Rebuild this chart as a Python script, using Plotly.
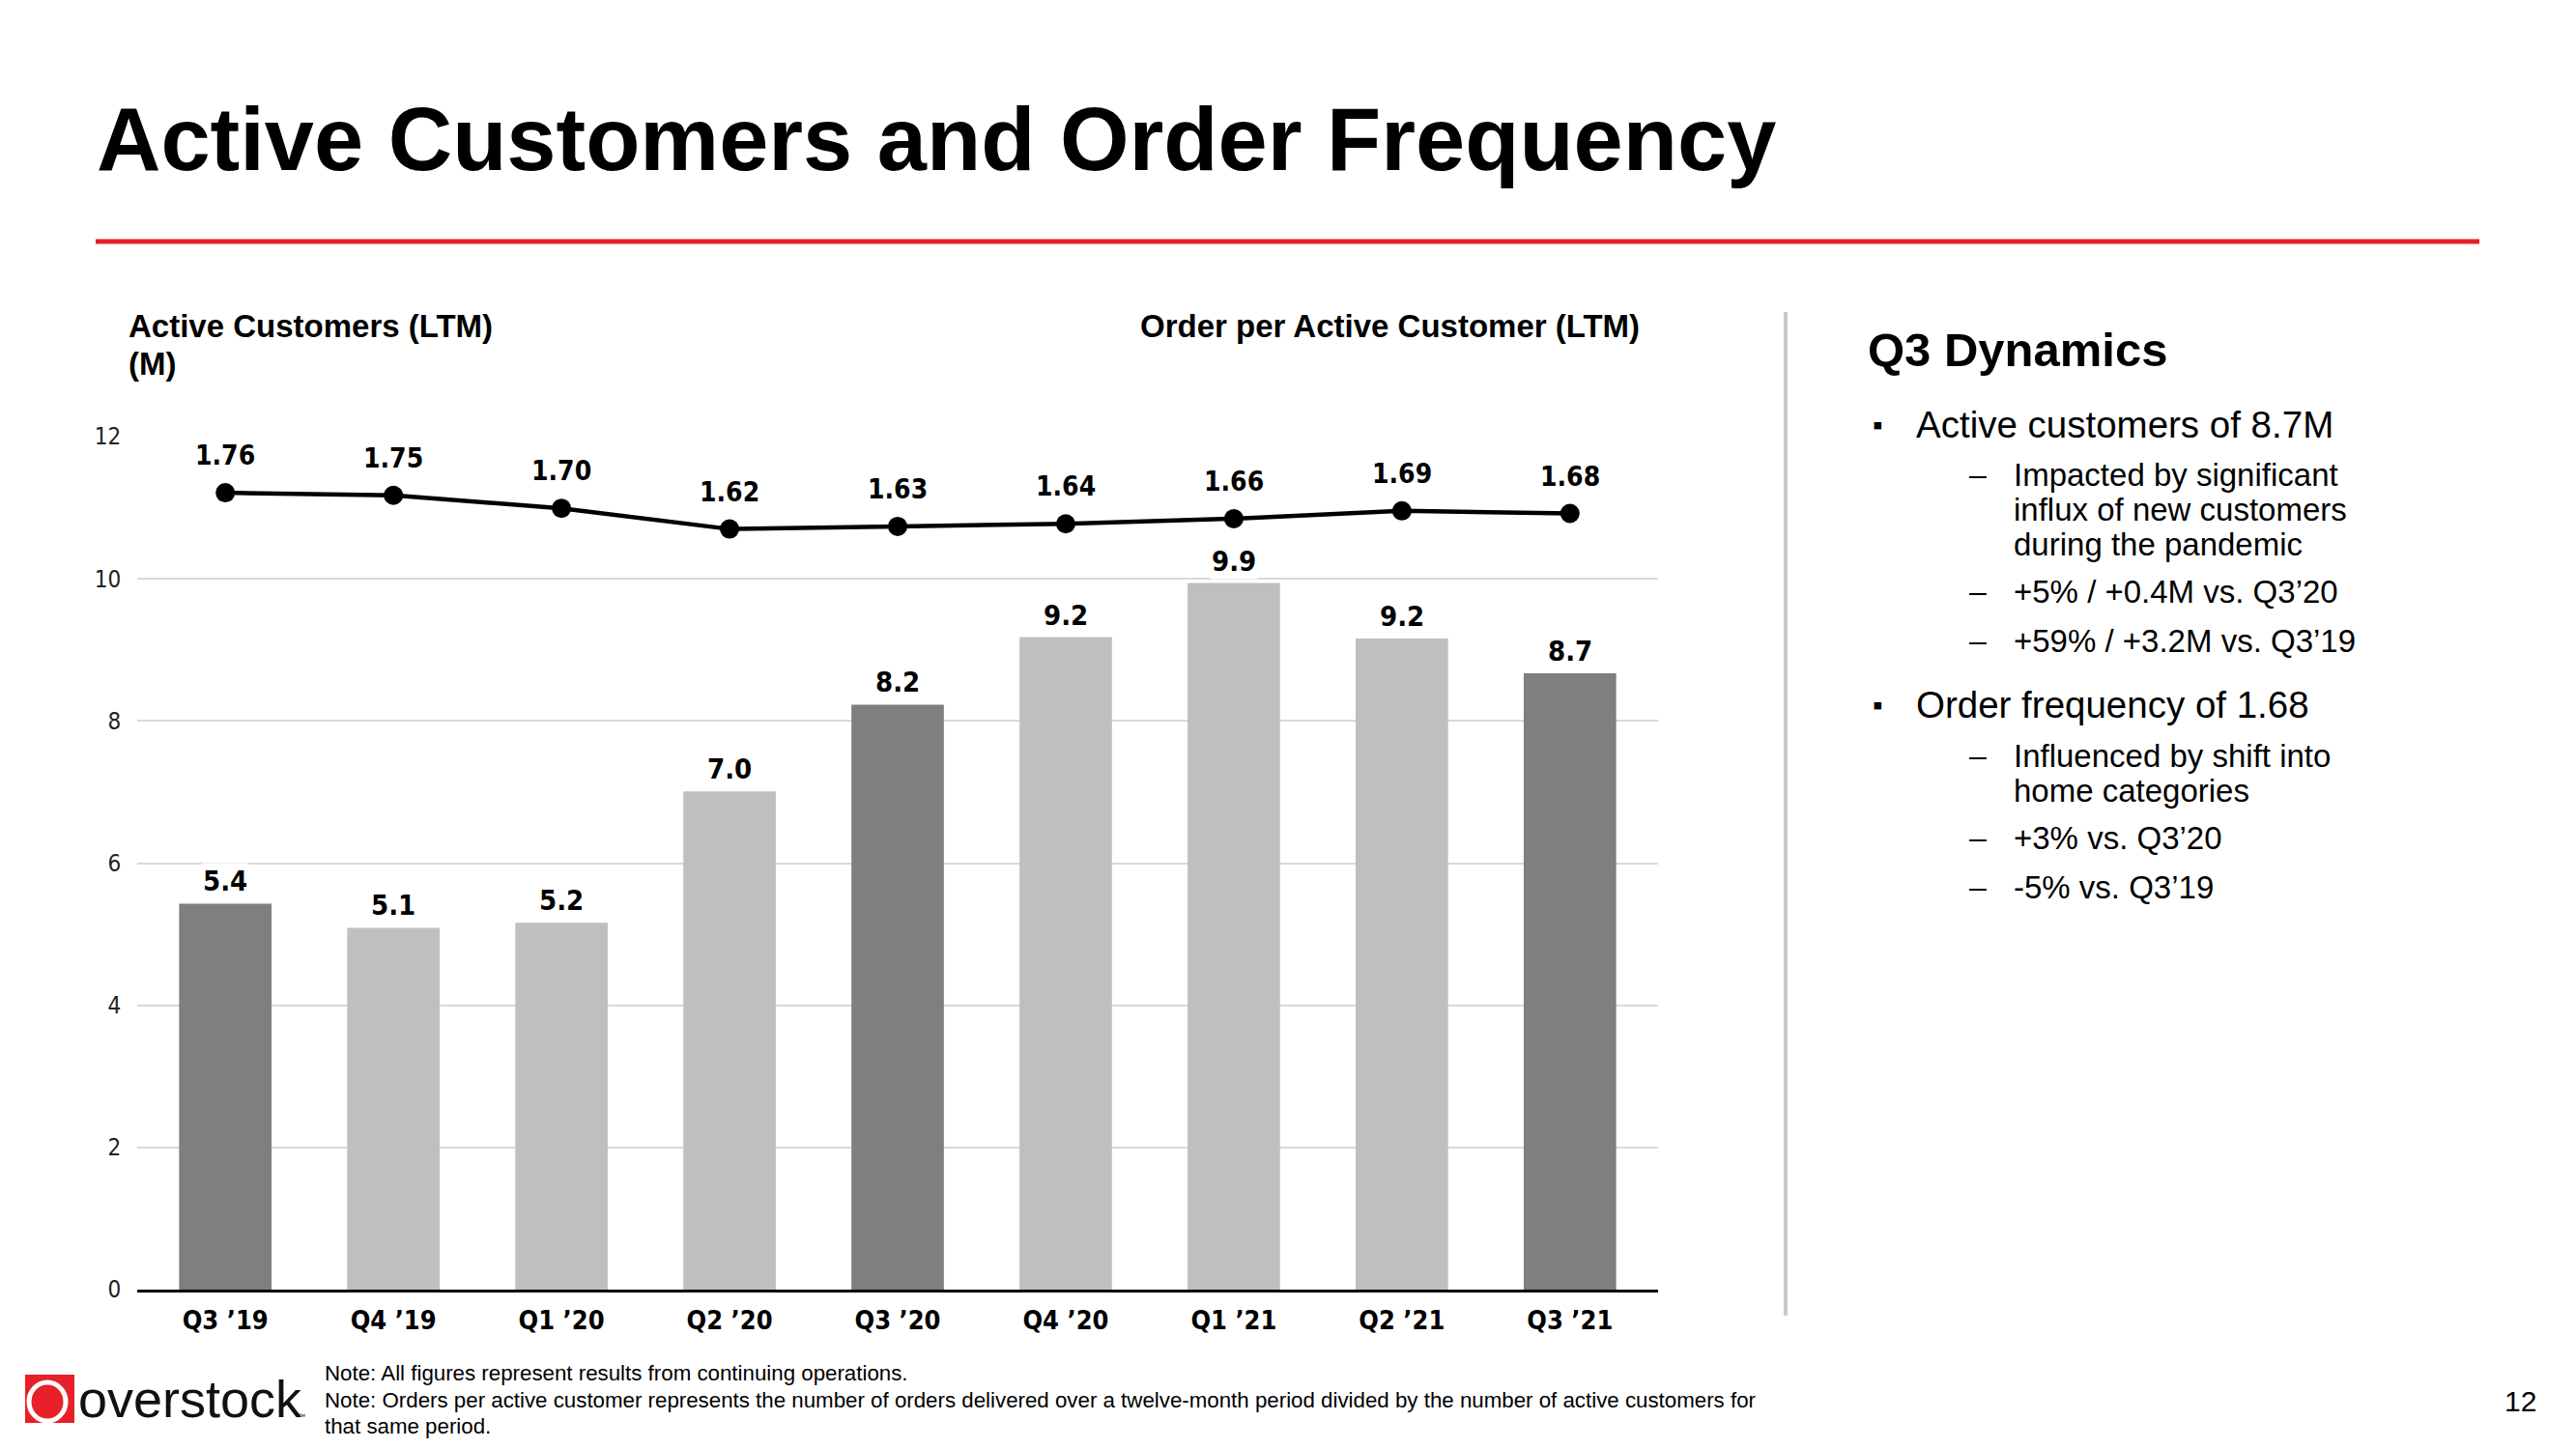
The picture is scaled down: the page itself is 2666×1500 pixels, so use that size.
import plotly.graph_objects as go

# ---------------- data ----------------
categories = ["Q3 ’19", "Q4 ’19", "Q1 ’20", "Q2 ’20", "Q3 ’20", "Q4 ’20", "Q1 ’21", "Q2 ’21", "Q3 ’21"]
active_customers = [5.43, 5.09, 5.16, 7.01, 8.23, 9.18, 9.94, 9.16, 8.67]
active_labels = ["5.4", "5.1", "5.2", "7.0", "8.2", "9.2", "9.9", "9.2", "8.7"]
orders_per_customer = [1.76, 1.75, 1.70, 1.62, 1.63, 1.64, 1.66, 1.69, 1.68]
order_labels = ["1.76", "1.75", "1.70", "1.62", "1.63", "1.64", "1.66", "1.69", "1.68"]
highlight = [True, False, False, False, True, False, False, False, True]
y_ticks = [0, 2, 4, 6, 8, 10, 12]

# ---------------- styling ----------------
OFF = 8                      # page body margin
W, H = 2666 - 2 * OFF, 1500 - 2 * OFF
# plot area in screen pixels
SL, SR, ST, SB = 142, 1716, 452, 1335
PW, PH = SR - SL, SB - ST
NARROW = "Liberation Sans Narrow, Arial Narrow, DejaVu Sans Condensed, sans-serif"
REG = "Liberation Sans, Arial, sans-serif"
DARK, LIGHT = "#7f7f7f", "#bfbfbf"
RED = "#e8202a"


def px(x):
    return (x - SL) / PW


def py(y):
    return (SB - y) / PH


bar_colors = [DARK if h else LIGHT for h in highlight]

fig = go.Figure()
fig.add_trace(go.Bar(x=categories, y=active_customers, marker=dict(color=bar_colors, line=dict(width=0)),
                     width=0.55, yaxis="y", showlegend=False, hoverinfo="skip"))
fig.add_trace(go.Scatter(x=categories, y=orders_per_customer, yaxis="y2", mode="lines+markers",
                         line=dict(color="black", width=4.5), marker=dict(color="black", size=20),
                         showlegend=False, hoverinfo="skip"))

ann = []
for c, v, t in zip(categories, active_customers, active_labels):
    ann.append(dict(x=c, y=v, xref="x", yref="y", text=f"<b>{t}</b>", showarrow=False,
                    yanchor="bottom", yshift=4, bgcolor="white", borderpad=1,
                    font=dict(family=NARROW, size=29, color="black")))
for c, v, t in zip(categories, orders_per_customer, order_labels):
    ann.append(dict(x=c, y=v, xref="x", yref="y2", text=f"<b>{t}</b>", showarrow=False,
                    yanchor="bottom", yshift=20, bgcolor="white", borderpad=1,
                    font=dict(family=NARROW, size=28, color="black")))


def text(x, y, s, size, family=REG, xanchor="left", color="black", bold=False):
    if bold:
        s = f"<b>{s}</b>"
    ann.append(dict(x=px(x), y=py(y), xref="paper", yref="paper", text=s, showarrow=False,
                    xanchor=xanchor, yanchor="middle", font=dict(family=family, size=size, color=color)))


# title
text(98, 144, "Active Customers and Order Frequency", 92, bold=True)
# chart headers
text(131, 338, "Active Customers (LTM)", 33, bold=True)
text(131, 377, "(M)", 33, bold=True)
text(1699, 338, "Order per Active Customer (LTM)", 33, bold=True, xanchor="right")

# right panel
text(1931, 362, "Q3 Dynamics", 49, bold=True)
text(1936, 439, "▪", 30)
text(1981, 439, "Active customers of 8.7M", 38.5)
sub = [
    (491, "Impacted by significant", True),
    (527, "influx of new customers", False),
    (563, "during the pandemic", False),
    (612, "+5% / +0.4M vs. Q3’20", True),
    (663, "+59% / +3.2M vs. Q3’19", True),
]
for yy, s, dash in sub:
    if dash:
        text(2036, yy, "–", 32)
    text(2082, yy, s, 33)
text(1936, 729, "▪", 30)
text(1981, 729, "Order frequency of 1.68", 38.5)
sub2 = [
    (782, "Influenced by shift into", True),
    (818, "home categories", False),
    (867, "+3% vs. Q3’20", True),
    (918, "-5% vs. Q3’19", True),
]
for yy, s, dash in sub2:
    if dash:
        text(2036, yy, "–", 32)
    text(2082, yy, s, 33)

# footer notes
text(334, 1421, "Note: All figures represent results from continuing operations.", 22.3)
text(334, 1449, "Note: Orders per active customer represents the number of orders delivered over a twelve-month period divided by the number of active customers for", 22.3)
text(334, 1476, "that same period.", 22.3)
# page number
text(2608, 1450, "12", 30, xanchor="center")
# logo text
text(79, 1448, "overstock", 54, color="#111111")
text(306, 1466, "™", 8, color="#111111")

shapes = [
    # red rule under title
    dict(type="line", xref="paper", yref="paper", x0=px(99), x1=px(2566), y0=py(250), y1=py(250),
         line=dict(color=RED, width=5)),
    # vertical separator
    dict(type="line", xref="paper", yref="paper", x0=px(1848), x1=px(1848), y0=py(323), y1=py(1362),
         line=dict(color="#c8c8c8", width=4)),
    # logo box
    dict(type="rect", xref="paper", yref="paper", x0=px(26), x1=px(77), y0=py(1423), y1=py(1473),
         fillcolor=RED, line=dict(width=0)),
    dict(type="circle", xref="paper", yref="paper", x0=px(30), x1=px(68), y0=py(1431), y1=py(1471),
         fillcolor="rgba(0,0,0,0)", line=dict(color="white", width=5)),
]

fig.update_layout(
    width=W, height=H,
    margin=dict(l=SL - OFF, r=W - (SR - OFF), t=ST - OFF, b=H - (SB - OFF), pad=0),
    paper_bgcolor="white", plot_bgcolor="white",
    xaxis=dict(type="category", showline=True, linecolor="black", linewidth=3, showgrid=False,
               ticks="outside", ticklen=6, tickcolor="rgba(0,0,0,0)",
               tickfont=dict(family=NARROW, size=27, color="black"),
               tickvals=categories, ticktext=[f"<b>{c}</b>" for c in categories]),
    yaxis=dict(range=[0, 12], tickvals=y_ticks, showgrid=True, gridcolor="#d9d9d9", gridwidth=1.5,
               zeroline=False, showline=False, ticks="outside", ticklen=11, tickcolor="rgba(0,0,0,0)",
               tickfont=dict(family=NARROW, size=24, color="#222")),
    yaxis2=dict(range=[-1.32, 1.977], overlaying="y", side="right", visible=False),
    annotations=ann,
    shapes=shapes,
)

fig.write_html("out.html")
